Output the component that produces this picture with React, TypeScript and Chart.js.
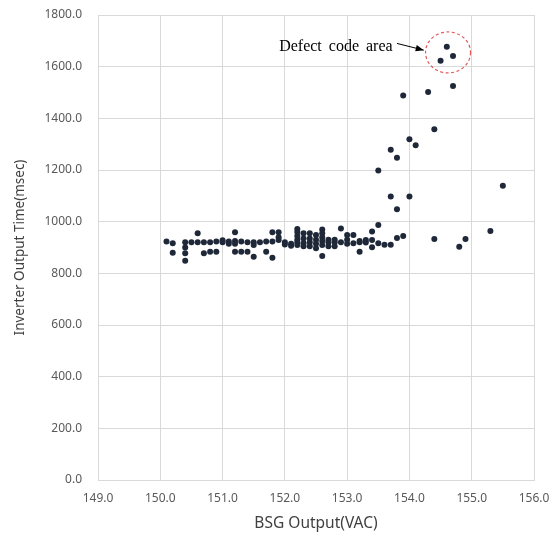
import React, { useEffect, useRef } from "react";
import { Chart, registerables } from "chart.js";

Chart.register(...registerables);

// BSG Output (VAC)
const bsgOutput: number[] = [
  150.1, 150.2, 150.2, 150.4, 150.4, 150.4, 150.4, 150.5, 150.6, 150.6,
  150.7, 150.7, 150.8, 150.8, 150.9, 150.9, 151.0, 151.0, 151.1, 151.1,
  151.2, 151.2, 151.2, 151.2, 151.3, 151.3, 151.4, 151.4, 151.5, 151.5,
  151.5, 151.6, 151.7, 151.7, 151.8, 151.8, 151.8, 151.9, 151.9, 151.9,
  152.0, 152.0, 152.1, 152.1, 152.2, 152.2, 152.2, 152.2, 152.2, 152.2,
  152.3, 152.3, 152.3, 152.3, 152.4, 152.4, 152.4, 152.4, 152.5, 152.5,
  152.5, 152.5, 152.6, 152.6, 152.6, 152.6, 152.6, 152.6, 152.7, 152.7,
  152.7, 152.8, 152.8, 152.8, 152.9, 152.9, 153.0, 153.0, 153.0, 153.1,
  153.1, 153.2, 153.2, 153.2, 153.3, 153.3, 153.4, 153.4, 153.4, 153.5,
  153.5, 153.6, 153.7, 153.8, 153.8, 153.9,
  154.6, 154.7, 154.5, 154.7, 154.3, 153.9, 154.4, 154.0, 154.1, 153.7,
  153.8, 153.5, 155.5, 153.7, 154.0, 154.4, 154.9, 154.8, 155.3,
];

// Inverter Output Time (msec)
const inverterTime: number[] = [
  923, 916, 880, 920, 900, 878, 849, 920, 955, 920,
  920, 878, 920, 884, 923, 884, 920, 928, 923, 915,
  959, 925, 915, 884, 923, 884, 920, 884, 920, 910,
  864, 920, 923, 884, 959, 923, 860, 959, 940, 929,
  920, 912, 907, 915, 972, 960, 945, 930, 920, 910,
  955, 935, 916, 905, 955, 935, 920, 905, 948, 930,
  915, 897, 970, 955, 940, 925, 910, 867, 930, 920,
  905, 930, 920, 905, 974, 920, 948, 930, 915, 948,
  916, 925, 920, 884, 929, 919, 962, 929, 901, 987,
  916, 911, 911, 937, 1048, 945,
  1677, 1641, 1623, 1525, 1502, 1488, 1358, 1319, 1296, 1278,
  1247, 1198, 1139, 1097, 1097, 933, 933, 903, 964,
];

const xTicks = { min: 149, max: 156, step: 1 };
const yTicks = { min: 0, max: 1800, step: 200 };

const annotationText = "Defect code area";

const annotationPlugin = {
  id: "defectArea",
  afterDatasetsDraw(chart: any) {
    const { ctx, scales } = chart;
    const xs = scales.x;
    const ys = scales.y;
    ctx.save();
    // dashed circle
    const cx = xs.getPixelForValue(154.62);
    const cy = ys.getPixelForValue(1655);
    ctx.beginPath();
    ctx.setLineDash([3, 2.5]);
    ctx.strokeStyle = "#e05a5a";
    ctx.lineWidth = 1.2;
    ctx.ellipse(cx, cy, 22.5, 20.5, 0, 0, Math.PI * 2);
    ctx.stroke();
    ctx.setLineDash([]);
    // text
    ctx.fillStyle = "#000";
    ctx.font = '16px "Liberation Serif", "DejaVu Serif", serif';
    ctx.textAlign = "right";
    ctx.textBaseline = "alphabetic";
    (ctx as any).wordSpacing = "3px";
    ctx.fillText(annotationText, xs.getPixelForValue(153.73), ys.getPixelForValue(1659));
    // arrow
    const x1 = xs.getPixelForValue(153.8);
    const y1 = ys.getPixelForValue(1690);
    const x2 = xs.getPixelForValue(154.23);
    const y2 = ys.getPixelForValue(1664);
    ctx.beginPath();
    ctx.strokeStyle = "#000";
    ctx.lineWidth = 1;
    ctx.moveTo(x1, y1);
    ctx.lineTo(x2, y2);
    ctx.stroke();
    const ang = Math.atan2(y2 - y1, x2 - x1);
    const hl = 8;
    const hw = 3.2;
    ctx.beginPath();
    ctx.moveTo(x2, y2);
    ctx.lineTo(x2 - hl * Math.cos(ang) + hw * Math.sin(ang), y2 - hl * Math.sin(ang) - hw * Math.cos(ang));
    ctx.lineTo(x2 - hl * Math.cos(ang) - hw * Math.sin(ang), y2 - hl * Math.sin(ang) + hw * Math.cos(ang));
    ctx.closePath();
    ctx.fill();
    ctx.restore();
  },
};

const zeroPad = (s: any) => {
  s.paddingTop = 0;
  s.paddingBottom = 0;
  s.paddingLeft = 0;
  s.paddingRight = 0;
};

export default function App() {
  const ref = useRef<HTMLCanvasElement | null>(null);
  useEffect(() => {
    document.body.style.margin = "0";
    const canvas = ref.current;
    if (!canvas) return;
    const data = bsgOutput.map((x, i) => ({ x, y: inverterTime[i] }));
    const family = '"Noto Sans", "DejaVu Sans", sans-serif';
    const tickFont = { family, size: 12 };
    const chart = new Chart(canvas, {
      type: "scatter",
      data: {
        datasets: [
          {
            data,
            backgroundColor: "#1f2838",
            borderColor: "#1f2838",
            pointRadius: 3,
            pointBorderWidth: 0,
          },
        ],
      },
      options: {
        animation: false,
        responsive: false,
        layout: { padding: { top: 15, right: 22, left: 0, bottom: 0 } },
        plugins: { legend: { display: false }, tooltip: { enabled: false } },
        scales: {
          x: {
            type: "linear",
            min: xTicks.min,
            max: xTicks.max,
            ticks: {
              stepSize: xTicks.step,
              color: "#595959",
              font: tickFont,
              padding: 11,
              callback: (v: any) => Number(v).toFixed(1),
            },
            grid: { color: "#d9d9d9", lineWidth: 1, drawTicks: false },
            border: { color: "#d9d9d9" },
            title: {
              display: true,
              text: "BSG Output(VAC)",
              color: "#404040",
              font: { family, size: 15.5 },
              padding: { top: 0, bottom: 3 },
            },
            afterFit: (s: any) => {
              s.height = 56;
              zeroPad(s);
            },
          },
          y: {
            type: "linear",
            min: yTicks.min,
            max: yTicks.max,
            ticks: {
              stepSize: yTicks.step,
              color: "#595959",
              font: tickFont,
              padding: 16,
              callback: (v: any) => Number(v).toFixed(1),
            },
            grid: { color: "#d9d9d9", lineWidth: 1, drawTicks: false },
            border: { color: "#d9d9d9" },
            title: {
              display: true,
              text: "Inverter Output Time(msec)",
              color: "#404040",
              font: { family, size: 13.5 },
              padding: { top: 12, bottom: 0 },
            },
            afterFit: (s: any) => {
              s.width = 98;
              zeroPad(s);
            },
          },
        },
      },
      plugins: [annotationPlugin],
    });
    return () => chart.destroy();
  }, []);
  return (
    <div style={{ width: 556, height: 536 }}>
      <canvas ref={ref} width={556} height={536} style={{ display: "block" }} />
    </div>
  );
}
